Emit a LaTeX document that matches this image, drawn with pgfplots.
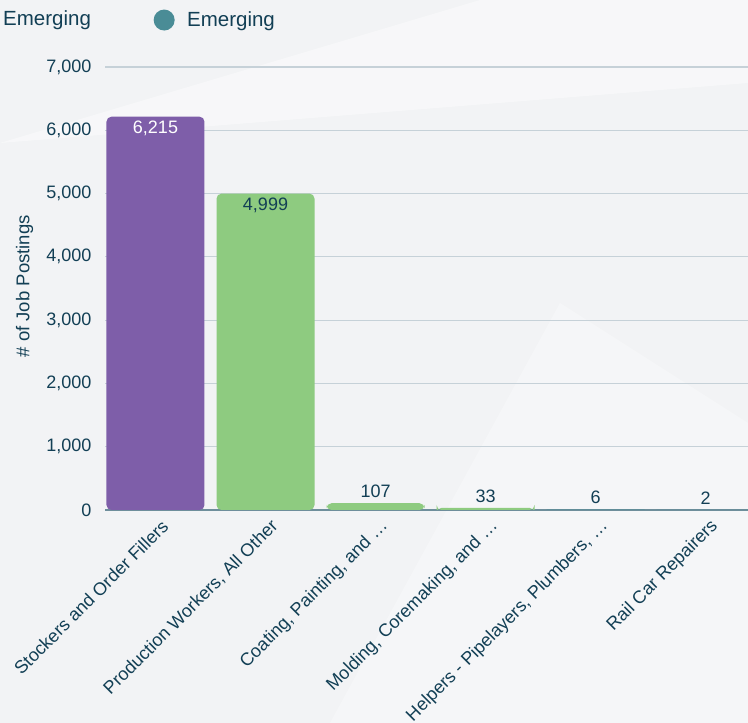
\documentclass[border=0pt]{standalone}
\usepackage{fontspec}
\setmainfont{Liberation Sans}
\usepackage{pgfplots}
\pgfplotsset{compat=1.18}
\definecolor{txt}{HTML}{123F55}
\definecolor{bg}{HTML}{F2F3F5}
\definecolor{purp}{HTML}{7E5EA9}
\definecolor{grn}{HTML}{8ECB80}
\definecolor{tealc}{HTML}{4A8C96}
\definecolor{gridc}{HTML}{C6D1D8}
\definecolor{basec}{HTML}{6E8E9B}
\pgfplotsset{/pgf/number format/assume math mode=true, /pgf/number format/1000 sep={,}}
\begin{document}
\begin{tikzpicture}[x=1bp,y=1bp]
\fill[bg] (0,0) rectangle (748,723);
\fill[white,opacity=0.4] (0,580) -- (480,723) -- (748,723) -- (748,640) -- cycle;
\fill[white,opacity=0.3] (330,0) -- (560,420) -- (748,300) -- (748,0) -- cycle;
\useasboundingbox (0,0) rectangle (748,723);
\node[anchor=west, text=txt, font=\fontsize{20.5bp}{23bp}\selectfont, inner sep=0pt] at (3,703) {Emerging};
\begin{axis}[
  at={(105bp,213bp)}, anchor=south west,
  scale only axis, width=643bp, height=443bp,
  xmin=-0.459, xmax=5.386, ymin=0, ymax=7000,
  ybar, bar width=98bp, bar shift=0pt,
  axis line style={draw=none},
  major tick length=0pt,
  ytick={0,1000,2000,3000,4000,5000,6000,7000},
  ymajorgrids, grid style={gridc, line width=1.2bp},
  extra y ticks={0}, extra y tick labels={},
  extra y tick style={grid style={basec, line width=1.6bp}},
  xtick={0,1,2,3,4,5},
  xticklabels={Stockers and Order Fillers, {Production Workers, All Other}, {Coating, Painting, and \dots}, {Molding, Coremaking, and \dots}, {Helpers - Pipelayers, Plumbers, \dots}, Rail Car Repairers},
  xticklabel style={xshift=12bp, yshift=-11bp, rotate=45, anchor=east, text=txt, font=\fontsize{18bp}{20bp}\selectfont},
  yticklabel style={text=txt, font=\fontsize{18bp}{20bp}\selectfont, xshift=-10bp},
  ylabel={\# of Job Postings},
  ylabel style={text=txt, font=\fontsize{18.5bp}{21bp}\selectfont, at={(axis description cs:-0.125,0.505)}, anchor=center},
  legend style={at={(axis description cs:0.0754,1.106)}, anchor=west, draw=none, fill=none, legend columns=-1, text=txt, font=\fontsize{20.5bp}{23bp}\selectfont, inner sep=0pt},
  every node near coord/.append style={font=\fontsize{18bp}{20bp}\selectfont, text=txt},
]
\addlegendimage{legend image code/.code={\fill[tealc, draw=none] (0bp,0bp) circle (10.5bp); \path[draw=none, fill=none] (-10.5bp,0bp) rectangle (21bp,0.1bp);}}
\addlegendentry{Emerging}
\addplot[fill=purp, draw=none, rounded corners=5bp, nodes near coords, every node near coord/.append style={anchor=north, text=white, yshift=-1bp}] coordinates {(0,6215)};
\addplot[fill=grn, draw=none, rounded corners=5bp, nodes near coords, every node near coord/.append style={anchor=north, yshift=-1bp}] coordinates {(1,4999)};
\addplot[fill=grn, draw=none, rounded corners=5bp, nodes near coords, every node near coord/.append style={yshift=2bp}] coordinates {(2,107) (3,33)};
\addplot[fill=tealc, draw=none, nodes near coords, every node near coord/.append style={yshift=2bp}] coordinates {(4,6) (5,2)};
\end{axis}
\end{tikzpicture}
\end{document}
